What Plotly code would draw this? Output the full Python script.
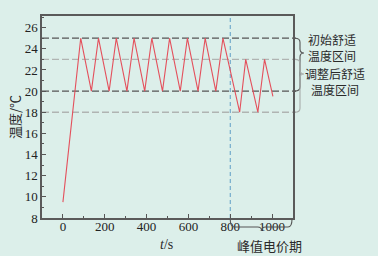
import plotly.graph_objects as go

# ---- data ----
t_s = [0, 85, 136, 170, 221, 255, 306, 340, 391, 425, 476, 510, 561, 595, 646, 680, 731, 765, 845, 874, 932, 964, 1004]
temp_c = [9.5, 25, 20, 25, 20, 25, 20, 25, 20, 25, 20, 25, 20, 25, 20, 25, 20, 25, 18, 23, 18, 23, 19.5]
initial_band = [20, 25]
adjusted_band = [18, 23]
peak_start = 800
x_ticks = [0, 200, 400, 600, 800, 1000]
y_ticks = [8, 10, 12, 14, 16, 18, 20, 22, 24, 26]

W, H = 378, 256
ML, MR, MT, MB = 42, 85, 16, 38
XR = [-100, 1100]
YR = [8, 27.1]
PW = W - ML - MR
PH = H - MT - MB

def px_x(px):
    return (px - ML) / PW

def px_y(py):
    return (H - MB - py) / PH

def val_to_py(v):
    return H - MB - (v - YR[0]) / (YR[1] - YR[0]) * PH

def t_to_px(t):
    return ML + (t - XR[0]) / (XR[1] - XR[0]) * PW

BG = "#dcefea"
SERIF = "Liberation Serif, Times New Roman, serif"
CJK = "Noto Sans CJK SC"

fig = go.Figure()
fig.add_trace(go.Scatter(x=t_s, y=temp_c, mode="lines",
                         line=dict(color="#e4505c", width=1.1),
                         showlegend=False, hoverinfo="skip"))

shapes = []
for v in initial_band:
    shapes.append(dict(type="line", xref="paper", yref="y", x0=0, x1=px_x(296), y0=v, y1=v,
                       line=dict(color="#555555", width=1.3, dash="7px,3px"), layer="below"))
for v in adjusted_band:
    shapes.append(dict(type="line", xref="paper", yref="y", x0=0, x1=px_x(296), y0=v, y1=v,
                       line=dict(color="#b0b4b2", width=1.3, dash="7px,3px"), layer="below"))
shapes.append(dict(type="line", xref="x", yref="paper", x0=peak_start, x1=peak_start, y0=0, y1=1,
                   line=dict(color="#5f9ec6", width=1, dash="4px,3px"), layer="below"))

def P(px, py):
    return f"{px_x(px):.5f},{px_y(py):.5f}"

def vbrace(x0, x1, xt, ya, yb, ytip, r=4):
    return ("M " + P(x0, ya) + " Q " + P(x1, ya) + " " + P(x1, ya + r) +
            " L " + P(x1, ytip - r) + " Q " + P(x1, ytip) + " " + P(xt, ytip) +
            " Q " + P(x1, ytip) + " " + P(x1, ytip + r) +
            " L " + P(x1, yb - r) + " Q " + P(x1, yb) + " " + P(x0, yb))

def hbrace(xl, xr, ya, ys, xt, ytip, r=4):
    return ("M " + P(xl, ya) + " Q " + P(xl, ys) + " " + P(xl + r, ys) +
            " L " + P(xt - r, ys) + " Q " + P(xt, ys) + " " + P(xt, ytip) +
            " Q " + P(xt, ys) + " " + P(xt + r, ys) +
            " L " + P(xr - r, ys) + " Q " + P(xr, ys) + " " + P(xr, ya))

b1 = vbrace(295, 300, 304, val_to_py(initial_band[1]), val_to_py(initial_band[0]), 53)
b2 = vbrace(295, 300, 304, val_to_py(adjusted_band[1]), val_to_py(adjusted_band[0]), 74)
b3 = hbrace(t_to_px(peak_start), t_to_px(XR[1]) - 1, 219, 227, (t_to_px(peak_start) + t_to_px(XR[1])) / 2, 231)
shapes.append(dict(type="path", xref="paper", yref="paper", path=b1, line=dict(color="#555555", width=1.1)))
shapes.append(dict(type="path", xref="paper", yref="paper", path=b2, line=dict(color="#a8acaa", width=1.1)))
shapes.append(dict(type="path", xref="paper", yref="paper", path=b3, line=dict(color="#555555", width=1.1)))

ann = []
def label(text, px, py, size=12):
    ann.append(dict(text=text, xref="paper", yref="paper", x=px_x(px), y=px_y(py),
                    xanchor="center", yanchor="middle", showarrow=False,
                    font=dict(family=CJK, size=size, color="#2a2a2a")))

label("初始舒适<br>温度区间", 332, 47)
label("调整后舒适<br>温度区间", 335, 82)
label("峰值电价期", 269, 245, size=13)

ann.append(dict(text="温度/℃", xref="paper", yref="paper", x=px_x(14), y=px_y(117),
                xanchor="center", yanchor="middle", showarrow=False, textangle=-90,
                font=dict(family=CJK, size=13, color="#2a2a2a")))
ann.append(dict(text="<i>t</i>/s", xref="paper", yref="paper", x=px_x(166), y=px_y(244),
                xanchor="center", yanchor="middle", showarrow=False,
                font=dict(family=SERIF, size=14, color="#2a2a2a")))

fig.update_layout(
    width=W, height=H,
    margin=dict(l=ML, r=MR, t=MT, b=MB),
    paper_bgcolor=BG, plot_bgcolor=BG,
    shapes=shapes, annotations=ann,
    showlegend=False,
)
fig.update_xaxes(range=XR, tickvals=x_ticks, ticktext=[str(v) for v in x_ticks],
                 ticks="inside", ticklen=4, tickcolor="#555", tickwidth=1,
                 ticklabelstandoff=-4,
                 minor=dict(ticks="inside", ticklen=2, dtick=100, tick0=0, tickcolor="#555"),
                 showline=True, linecolor="#5a5a5a", linewidth=1.5, mirror=True,
                 showgrid=False, zeroline=False,
                 tickfont=dict(family=SERIF, size=13, color="#222"))
fig.update_yaxes(range=YR, tickvals=y_ticks, ticktext=[str(v) for v in y_ticks],
                 ticks="inside", ticklen=4, tickcolor="#555", tickwidth=1,
                 minor=dict(ticks="inside", ticklen=2, dtick=1, tick0=8, tickcolor="#555"),
                 showline=True, linecolor="#5a5a5a", linewidth=1.5, mirror=True,
                 showgrid=False, zeroline=False,
                 tickfont=dict(family=SERIF, size=13, color="#222"))

fig.write_html("out.html", config={"displayModeBar": False},
               post_script="document.body.style.margin='0';document.body.style.padding='0';"
                           "document.body.style.background='" + BG + "';")
